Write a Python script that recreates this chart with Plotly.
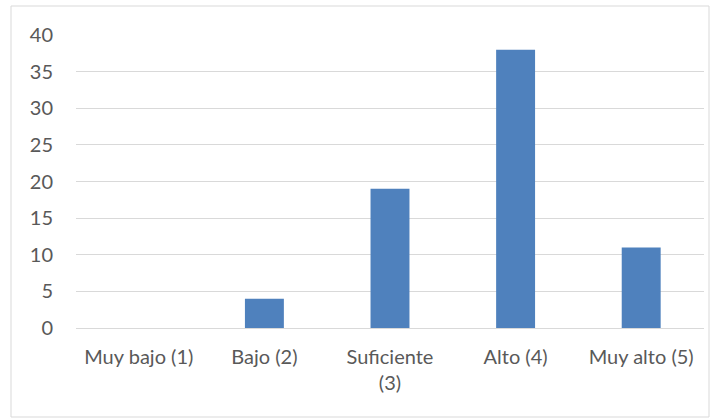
import plotly.graph_objects as go

categories = ["Muy bajo (1)", "Bajo (2)", "Suficiente<br>(3)", "Alto (4)", "Muy alto (5)"]
values = [0, 4, 19, 38, 11]
y_ticks = [0, 5, 10, 15, 20, 25, 30, 35, 40]

W, H = 721, 419
L, R, T, B = 76, 17, 35, 91
pw, ph = W - L - R, H - T - B

def px_x(p):
    return (p - L) / pw

def px_y(p):
    return (H - B - p) / ph

fig = go.Figure(go.Bar(x=categories, y=values, marker=dict(color="#4F81BD", line=dict(width=0)), width=0.31))

FS = 20
fig.update_layout(
    width=W, height=H,
    margin=dict(l=L, r=R, t=T, b=B, autoexpand=False),
    paper_bgcolor="white", plot_bgcolor="white",
    font=dict(family="Lato, Carlito, Calibri, sans-serif", size=FS, color="#595959"),
    showlegend=False,
    xaxis=dict(showgrid=False, showline=False, ticks="", ticklabelstandoff=15, automargin=False,
               tickfont=dict(size=FS, color="#595959")),
    yaxis=dict(range=[0, 40], tickvals=y_ticks, showgrid=True, gridcolor="#D9D9D9", gridwidth=1.3,
               zeroline=True, zerolinecolor="#D9D9D9", zerolinewidth=1.3, showline=False, ticks="",
               automargin=False, ticklabelstandoff=22, tickfont=dict(size=FS, color="#595959")),
    shapes=[dict(type="rect", xref="paper", yref="paper",
                 x0=px_x(11), x1=px_x(709), y0=px_y(417), y1=px_y(6),
                 line=dict(color="#D9D9D9", width=1), layer="below")],
)

fig.write_html("out.html", config={"displayModeBar": False},
               post_script="document.body.style.margin='0';document.body.style.padding='0';")
